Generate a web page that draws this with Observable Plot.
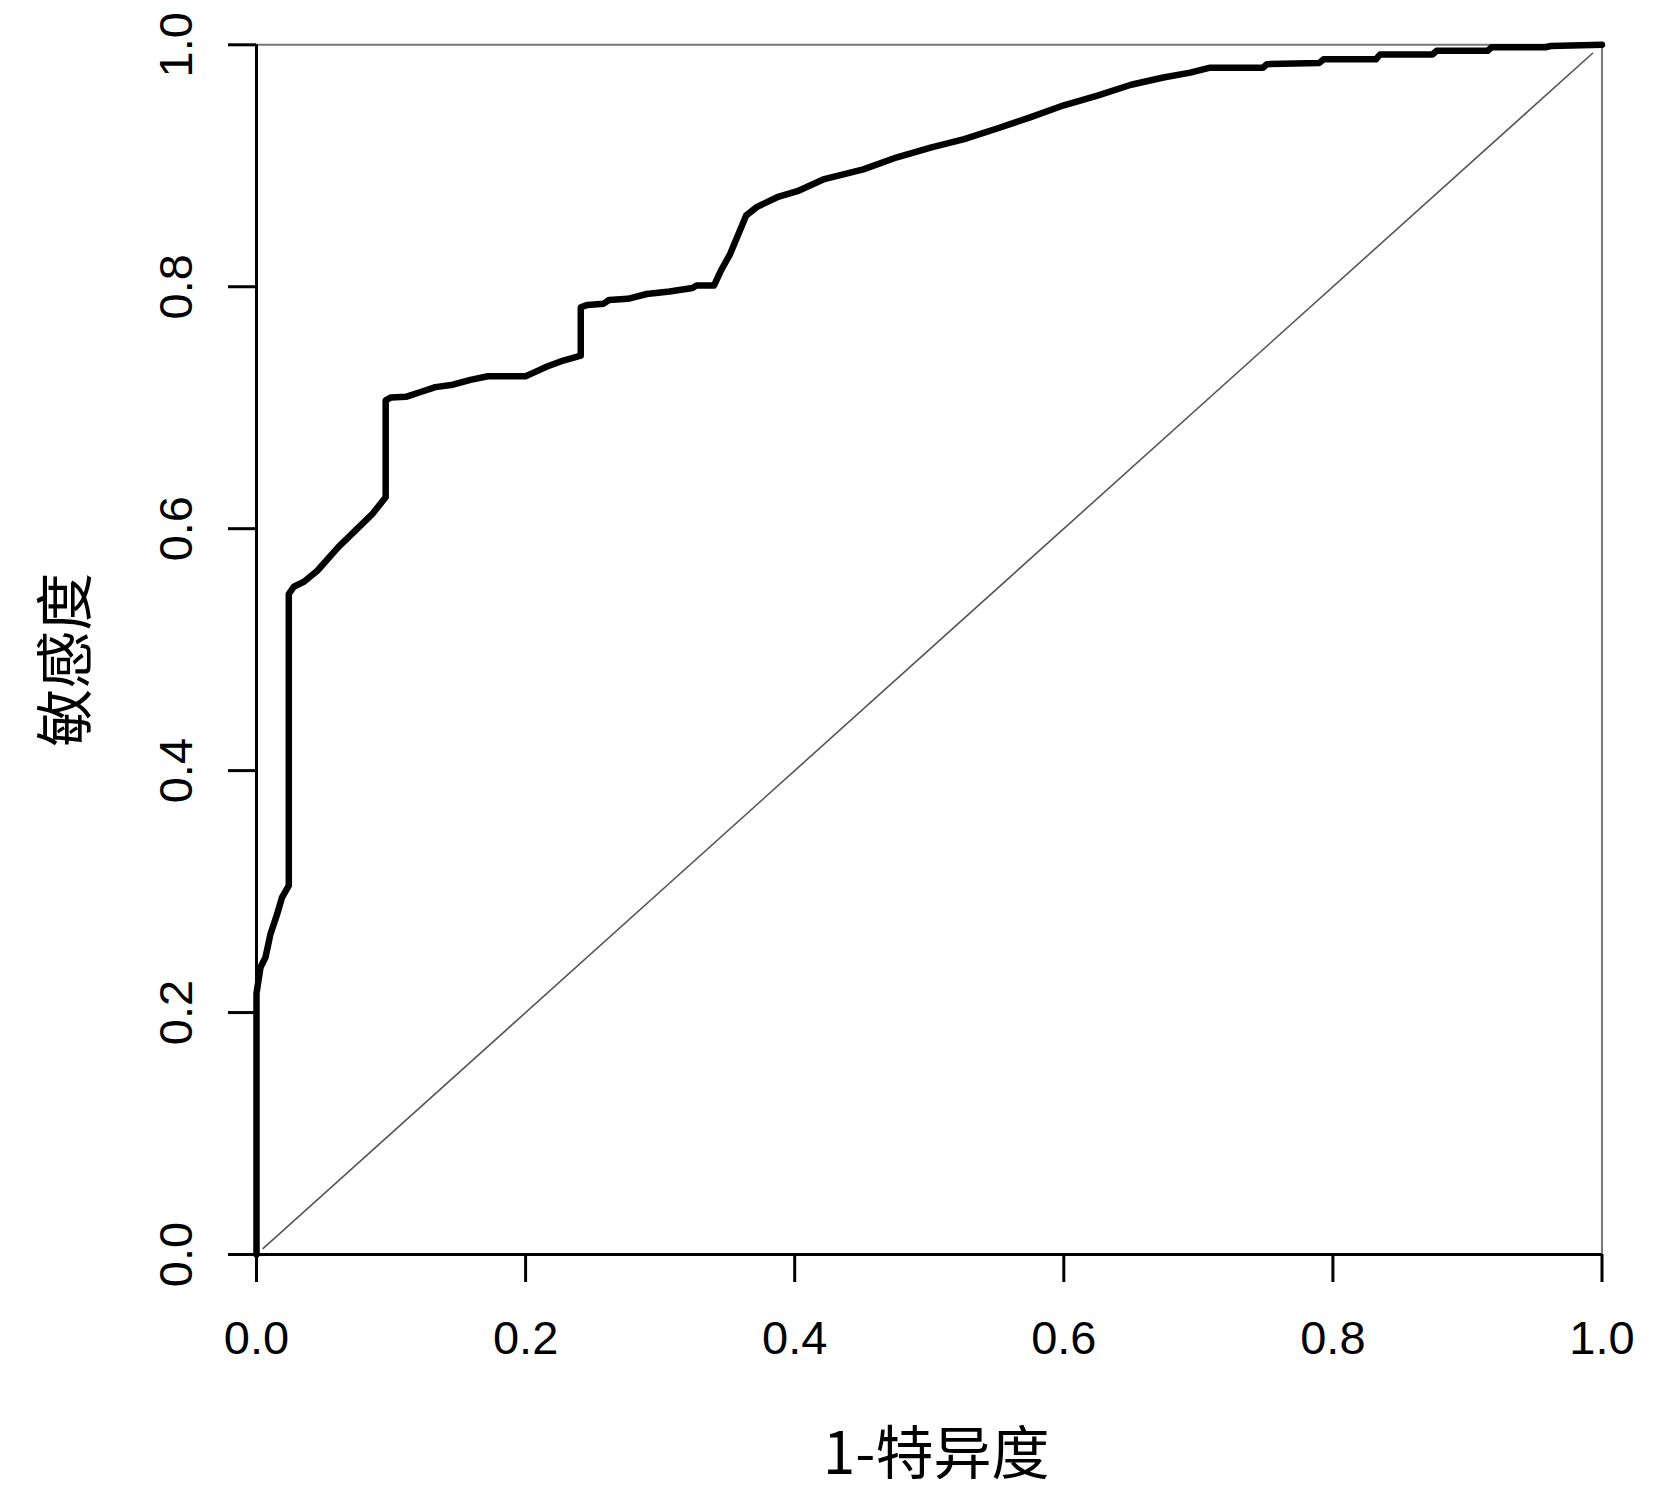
<!DOCTYPE html>
<html>
<head>
<meta charset="utf-8">
<script src="https://cdn.jsdelivr.net/npm/d3@7"></script>
<script src="https://cdn.jsdelivr.net/npm/@observablehq/plot@0.6"></script>
<style>
  html, body { margin: 0; padding: 0; background: #fff; }
  #chart svg { display: block; }
</style>
</head>
<body>
<div id="chart"></div>
<script>
// ROC curve vertices (1 - specificity, sensitivity)
const fpr = [0, 0, 0.003, 0.0067, 0.0104, 0.0154, 0.019, 0.024, 0.024, 0.0277, 0.035, 0.045, 0.061, 0.086, 0.096,
  0.096, 0.1, 0.111, 0.122, 0.133, 0.146, 0.159, 0.172, 0.2, 0.206, 0.216, 0.228, 0.241, 0.241,
  0.246, 0.258, 0.262, 0.276, 0.29, 0.307, 0.324, 0.327, 0.340, 0.345, 0.352, 0.364,
  0.372, 0.387, 0.402, 0.422, 0.451, 0.476, 0.501, 0.526, 0.551, 0.575, 0.6, 0.625, 0.65, 0.674, 0.694, 0.708,
  0.748, 0.751, 0.790, 0.793, 0.832, 0.835, 0.874, 0.877, 0.915, 0.918, 0.958, 0.962, 1];
const tpr = [0, 0.216, 0.2375, 0.2457, 0.265, 0.2816, 0.2953, 0.305, 0.546, 0.552, 0.556, 0.565, 0.585, 0.612, 0.626,
  0.706, 0.7085, 0.709, 0.713, 0.717, 0.719, 0.723, 0.726, 0.726, 0.729, 0.734, 0.739, 0.743, 0.783,
  0.785, 0.786, 0.789, 0.790, 0.794, 0.796, 0.799, 0.801, 0.801, 0.813, 0.827, 0.859,
  0.866, 0.874, 0.879, 0.889, 0.897, 0.907, 0.915, 0.922, 0.931, 0.940, 0.950, 0.958, 0.967, 0.973, 0.977, 0.981,
  0.981, 0.984, 0.985, 0.988, 0.988, 0.992, 0.992, 0.995, 0.995, 0.998, 0.998, 0.999, 1];

// Reference (chance) diagonal
const diagX = [0.005, 0.993];
const diagY = [0.005, 0.993];

const xTicks = [0, 0.2, 0.4, 0.6, 0.8, 1.0];
const yTicks = [0, 0.2, 0.4, 0.6, 0.8, 1.0];
const xTitle = "1-特异度";
const yTitle = "敏感度";

const rocData = fpr.map((x, i) => ({fpr: x, tpr: tpr[i]}));
const diagData = diagX.map((x, i) => ({x, y: diagY[i]}));

const tickFont = '"Liberation Sans", Arial, sans-serif';
const cjkFont = '"Noto Sans CJK SC", "Noto Sans", sans-serif';

const chart = Plot.plot({
  width: 1654,
  height: 1500,
  marginLeft: 256,
  marginRight: 52.5,
  marginTop: 44.3,
  marginBottom: 246,
  style: {background: "#fff", color: "#000", overflow: "visible"},
  x: {domain: [0, 1]},
  y: {domain: [0, 1]},
  marks: [
    Plot.line(diagData, {x: "x", y: "y", stroke: "#555", strokeWidth: 1.6}),
    Plot.ruleY([1], {x1: 0, x2: 1, stroke: "#777", strokeWidth: 2}),
    Plot.ruleX([1], {y1: 0, y2: 1, stroke: "#777", strokeWidth: 2}),
    Plot.ruleX([0], {y1: 0, y2: 1, stroke: "#000", strokeWidth: 3}),
    Plot.ruleY([0], {x1: 0, x2: 1, stroke: "#000", strokeWidth: 3}),
    Plot.line(rocData, {x: "fpr", y: "tpr", stroke: "#000", strokeWidth: 6.5, strokeLinejoin: "round"}),
    Plot.axisX({
      ticks: xTicks, tickSize: 28, tickPadding: 38, tickFormat: d3.format(".1f"),
      strokeWidth: 3, fontSize: 47, fontFamily: tickFont, label: null
    }),
    Plot.axisY({
      ticks: yTicks, tickSize: 28, tickPadding: 37, tickRotate: -90, tickFormat: d3.format(".1f"),
      strokeWidth: 3, fontSize: 47, fontFamily: tickFont, label: null
    }),
    Plot.text([xTitle], {
      text: d => d, frameAnchor: "bottom", dy: 201, dx: 7, lineAnchor: "middle",
      fontSize: 58, fontFamily: cjkFont, fill: "#000"
    }),
    Plot.text([yTitle], {
      text: d => d, frameAnchor: "left", dx: -189, dy: 97, rotate: -90, lineAnchor: "middle",
      fontSize: 58, fontFamily: cjkFont, fill: "#000"
    })
  ]
});
document.getElementById("chart").appendChild(chart);
</script>
</body>
</html>
